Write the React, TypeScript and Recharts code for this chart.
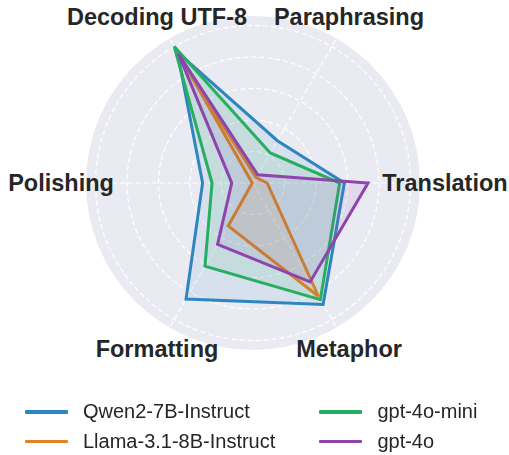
import React from "react";
import {
  RadarChart,
  Radar,
  PolarGrid,
  PolarAngleAxis,
  PolarRadiusAxis,
  Legend,
} from "recharts";

const categories = [
  "Decoding UTF-8",
  "Paraphrasing",
  "Translation",
  "Metaphor",
  "Formatting",
  "Polishing",
];

const qwen = [96, 31, 58, 89, 85, 32];
const llama = [83, 4, 9, 83, 31.5, 0.5];
const gptMini = [100, 22, 55, 85.5, 61, 26];
const gpt4o = [94.5, 6, 73, 72.5, 45, 13.5];

const radialTicks = [0, 20, 40, 60, 80, 100];

const series = [
  { key: "Qwen2-7B-Instruct", values: qwen, color: "#2e86c1" },
  { key: "Llama-3.1-8B-Instruct", values: llama, color: "#e67e22" },
  { key: "gpt-4o-mini", values: gptMini, color: "#27ae60" },
  { key: "gpt-4o", values: gpt4o, color: "#8e44ad" },
];
const seriesOrder = series.map((s) => s.key);

const data = categories.map((c, i) => {
  const row: Record<string, string | number> = { subject: c };
  series.forEach((s) => {
    row[s.key] = s.values[i];
  });
  return row;
});

const W = 509;
const H = 455;
const CX = 253;
const CY = 183;
const R = 167;
const LABEL_R = 192;
const FONT = "'Liberation Sans', Arial, sans-serif";

const AngleTick = (props: any) => {
  const { x, y, payload } = props;
  const dx = x - CX;
  const dy = y - CY;
  const d = Math.hypot(dx, dy) || 1;
  return (
    <text
      x={CX + (dx / d) * LABEL_R}
      y={CY + (dy / d) * LABEL_R}
      textAnchor="middle"
      dominantBaseline="central"
      fontFamily={FONT}
      fontWeight="bold"
      fontSize={23.5}
      fill="#262626"
    >
      {payload.value}
    </text>
  );
};

const LegendContent = (props: any) => {
  const items = [...(props.payload || [])].sort(
    (a: any, b: any) => seriesOrder.indexOf(a.value) - seriesOrder.indexOf(b.value)
  );
  // two columns, filled column by column like matplotlib ncol=2
  const cols = [items.slice(0, 2), items.slice(2, 4)];
  return (
    <div style={{ display: "flex", fontFamily: FONT, fontSize: 20, color: "#262626" }}>
      {cols.map((col: any[], ci: number) => (
        <div key={ci} style={{ width: ci === 0 ? 295 : 190 }}>
          {col.map((it: any) => (
            <div
              key={it.value}
              style={{ display: "flex", alignItems: "center", height: 29.5 }}
            >
              <span
                style={{
                  display: "inline-block",
                  width: 43,
                  height: 3.5,
                  background: it.color,
                  marginRight: 15,
                  borderRadius: 1,
                }}
              />
              <span>{it.value}</span>
            </div>
          ))}
        </div>
      ))}
    </div>
  );
};

export default function App() {
  return (
    <div
      style={{
        position: "fixed",
        left: 0,
        top: 0,
        width: W,
        height: H,
        background: "#fff",
      }}
    >
      <div
        style={{
          position: "absolute",
          left: CX - R,
          top: CY - R,
          width: R * 2,
          height: R * 2,
          borderRadius: "50%",
          background: "#eaeaf2",
        }}
      />
      <div style={{ position: "absolute", left: 0, top: 0 }}>
        <RadarChart
          width={W}
          height={H}
          data={data}
          cx={CX}
          cy={CY}
          outerRadius={R}
          startAngle={120}
          endAngle={-240}
        >
          <PolarGrid
            gridType="circle"
            stroke="#ffffff"
            strokeWidth={1.2}
            strokeDasharray="5 3"
          />
          <PolarAngleAxis
            dataKey="subject"
            tick={<AngleTick />}
            tickLine={false}
            axisLine={false}
          />
          <PolarRadiusAxis
            domain={[0, 105.6]}
            ticks={radialTicks}
            tick={false}
            axisLine={false}
          />
          {series.map((s) => (
            <Radar
              key={s.key}
              name={s.key}
              dataKey={s.key}
              stroke={s.color}
              strokeWidth={3}
              fill={s.color}
              fillOpacity={0.1}
              dot={false}
              isAnimationActive={false}
            />
          ))}
          <Legend
            content={<LegendContent />}
            wrapperStyle={{ position: "absolute", left: 25, top: 397, width: 484 }}
          />
        </RadarChart>
      </div>
    </div>
  );
}
